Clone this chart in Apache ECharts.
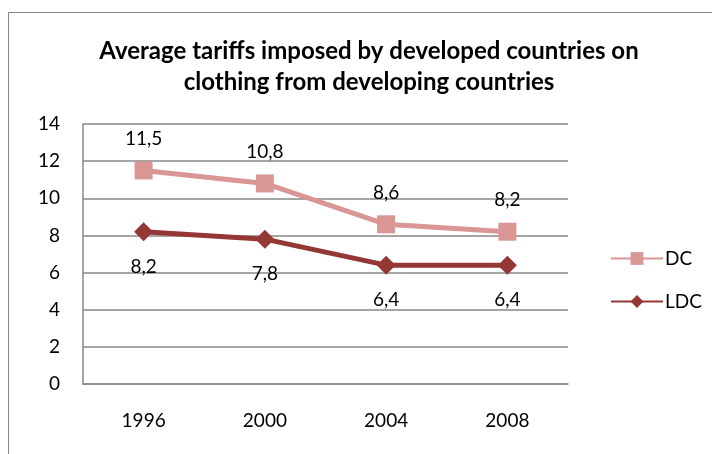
<!DOCTYPE html>
<html><head><meta charset="utf-8">
<script src="https://cdn.jsdelivr.net/npm/echarts@6/dist/echarts.min.js"></script>
<style>html,body{margin:0;padding:0;background:#fff}#c{width:712px;height:454px}</style>
</head><body><div id="c"></div>
<script>
var categories = ['1996', '2000', '2004', '2008'];
var dcValues = [11.5, 10.8, 8.6, 8.2];
var ldcValues = [8.2, 7.8, 6.4, 6.4];
var yTicks = [0, 2, 4, 6, 8, 10, 12, 14];
var titleText = 'Average tariffs imposed by developed countries on\nclothing from developing countries';

var FONT = 'Lato';
var chart = echarts.init(document.getElementById('c'));
function fmt(p){ return String(p.value).replace('.', ','); }
chart.setOption({
  animation: false,
  textStyle: { fontFamily: FONT },
  graphic: [{ type: 'rect', shape: { x: 8.5, y: 12.5, width: 760, height: 500 }, style: { fill: 'none', stroke: '#878787', lineWidth: 1 } }],
  title: {
    text: titleText, left: 364, top: 31, textAlign: 'center',
    textStyle: { fontFamily: FONT, fontWeight: 'bold', fontSize: 24, lineHeight: 31, color: '#000' }
  },
  legend: {
    orient: 'vertical', left: 605, top: 244, itemWidth: 52, itemHeight: 16, itemGap: 24,
    textStyle: { fontFamily: FONT, fontSize: 19, color: '#000', padding: [0,0,0,-3] },
    data: ['DC', 'LDC']
  },
  grid: { left: 83, right: 144, top: 124, bottom: 70 },
  xAxis: {
    type: 'category', data: categories,
    axisLine: { lineStyle: { color: '#878787', width: 1.5 } },
    axisTick: { show: false },
    axisLabel: { color: '#000', fontSize: 19, margin: 27, fontFamily: FONT }
  },
  yAxis: {
    type: 'value', min: yTicks[0], max: yTicks[yTicks.length - 1], interval: 2,
    axisLine: { show: true, lineStyle: { color: '#878787', width: 1.5 } },
    axisTick: { show: false },
    splitLine: { lineStyle: { color: '#878787', width: 1.5 } },
    axisLabel: { color: '#000', fontSize: 19, margin: 23, fontFamily: FONT }
  },
  series: [
    {
      name: 'DC', type: 'line', data: dcValues, symbol: 'rect', symbolSize: 18,
      lineStyle: { color: '#D99694', width: 5 }, itemStyle: { color: '#D99694' },
      label: { show: true, position: 'top', distance: 13, formatter: fmt, fontSize: 19, color: '#000', fontFamily: FONT }
    },
    {
      name: 'LDC', type: 'line', data: ldcValues, symbol: 'diamond', symbolSize: 19,
      lineStyle: { color: '#953735', width: 5 }, itemStyle: { color: '#953735' },
      label: { show: true, position: 'bottom', distance: 16, formatter: fmt, fontSize: 19, color: '#000', fontFamily: FONT }
    }
  ]
});
</script></body></html>
